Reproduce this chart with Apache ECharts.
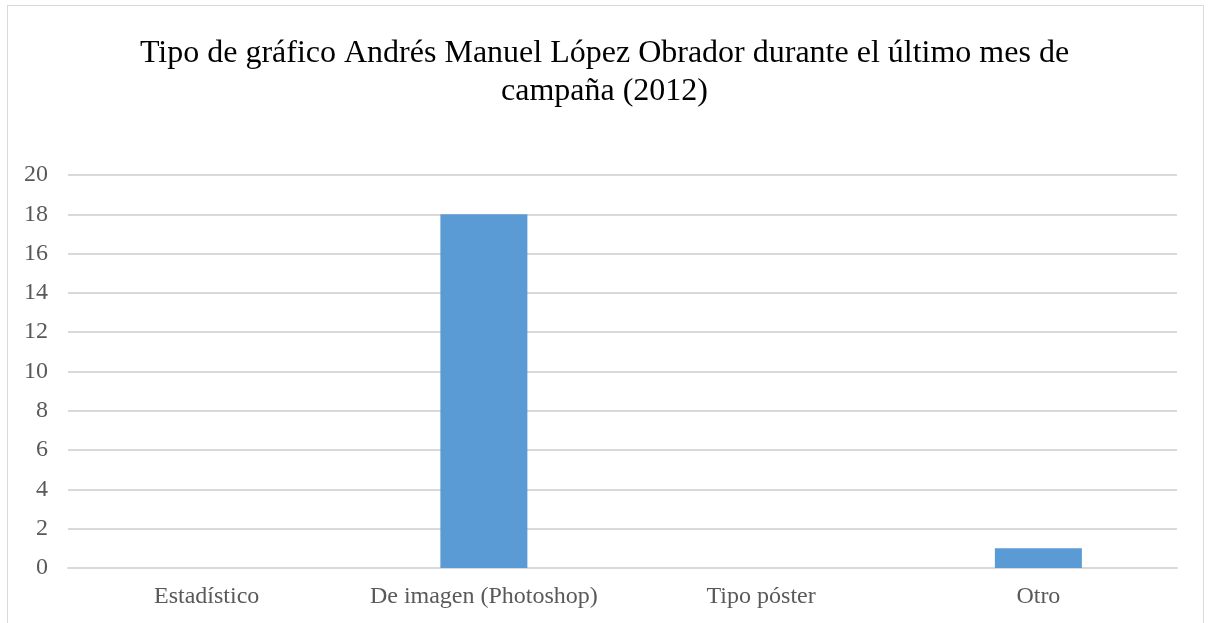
<!DOCTYPE html>
<html>
<head>
<meta charset="utf-8">
<script src="https://cdn.jsdelivr.net/npm/echarts@6/dist/echarts.min.js"></script>
<style>
  html, body { margin: 0; padding: 0; background: #fff; }
  .frame {
    position: absolute;
    left: 7px;
    top: 5px;
    width: 1195px;
    height: 640px;
    border: 1px solid #d9d9d9;
  }
  #main { position: absolute; left: 0; top: 0; width: 1209px; height: 623px; }
</style>
</head>
<body>
<div class="frame"></div>
<div id="main"></div>
<script>
var categories = ['Estadístico', 'De imagen (Photoshop)', 'Tipo póster', 'Otro']
var values = [0, 18, 0, 1]
var yTicks = { min: 0, max: 20, interval: 2 }

var myChart = echarts.init(document.getElementById('main'))

var option = {
  animation: false,
  title: {
    text: 'Tipo de gráfico Andrés Manuel López Obrador durante el último mes de\ncampaña (2012)',
    left: 'center',
    top: 30,
    textStyle: {
      fontFamily: 'Liberation Serif',
      fontSize: 32,
      fontWeight: 'normal',
      color: '#000',
      lineHeight: 38,
      align: 'center'
    }
  },
  grid: {
    left: 68,
    right: 32,
    top: 175,
    bottom: 55
  },
  xAxis: {
    type: 'category',
    data: categories,
    axisLine: { show: true, lineStyle: { color: '#d9d9d9', width: 2 } },
    axisTick: { show: false },
    axisLabel: {
      interval: 0,
      hideOverlap: false,
      fontFamily: 'Liberation Serif',
      fontSize: 24,
      color: '#595959',
      margin: 17
    }
  },
  yAxis: {
    type: 'value',
    min: yTicks.min,
    max: yTicks.max,
    interval: yTicks.interval,
    axisLine: { show: false },
    axisTick: { show: false },
    splitLine: { lineStyle: { color: '#d9d9d9', width: 2 } },
    axisLabel: {
      fontFamily: 'Liberation Serif',
      fontSize: 24,
      color: '#595959',
      margin: 20
    }
  },
  series: [
    {
      type: 'bar',
      data: values,
      barWidth: 87,
      itemStyle: { color: '#5b9bd5' }
    }
  ]
}

myChart.setOption(option, true)
</script>
</body>
</html>
